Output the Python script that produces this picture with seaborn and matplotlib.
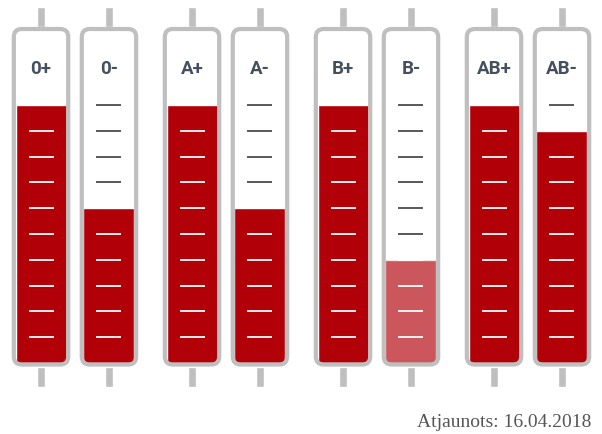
import matplotlib
matplotlib.use("Agg")
import matplotlib.pyplot as plt
import pandas as pd
import seaborn as sns
from matplotlib.patches import FancyBboxPatch

# ---- data
groups = ["0", "A", "B", "AB"]
rhesus = ["+", "-"]
levels_pos = [10, 10, 10, 10]
levels_neg = [6, 6, 4, 9]
tick_levels = [1, 2, 3, 4, 5, 6, 7, 8, 9, 10]
low_stock = [("B", "-")]
updated = "Atjaunots: 16.04.2018"

RED = "#B10008"
GREY = "#BFBFBF"
PX_X = 151.0   # px per group
PX_Y = 25.8    # px per level
ASPECT = PX_X / PX_Y

df = pd.DataFrame({
    "group": groups * 2,
    "rh": ["+"] * 4 + ["-"] * 4,
    "level": levels_pos + levels_neg,
})

sns.set_theme(style="white")
fig = plt.figure(figsize=(6.02, 4.34), dpi=100)
ax = fig.add_axes([0, 0, 1, 1])

sns.barplot(data=df, x="group", y="level", hue="rh", order=groups, hue_order=rhesus,
            palette=[RED, RED], saturation=1, width=0.9, gap=0.25, legend=False, ax=ax)

ax.set_xlim(-75 / PX_X, (602 - 75) / PX_X)
ax.set_ylim((363 - 434) / PX_Y, 363 / PX_Y)
ax.axis("off")

dx = 1 / PX_X   # one pixel in data units
dy = 1 / PX_Y

for container, rh in zip(ax.containers, rhesus):
    for bar, group in zip(container.patches, groups):
        cx = bar.get_x() + bar.get_width() / 2
        level = bar.get_height()
        if (group, rh) in low_stock:
            bar.set_alpha(0.66)

        # clip the fill so that its lower corners follow the tube
        inner = FancyBboxPatch((cx - 25.5 * dx, 0), 51 * dx, 12.5,
                               boxstyle=f"round,pad=0,rounding_size={6 * dx}",
                               mutation_aspect=ASPECT, transform=ax.transData,
                               fc="none", ec="none")
        ax.add_patch(inner)
        bar.set_clip_path(inner)

        # tube outline and stems
        tube = FancyBboxPatch((cx - 27.2 * dx, -1.5 * dy), 54.4 * dx, 335.5 * dy,
                              boxstyle=f"round,pad=0,rounding_size={8 * dx}",
                              mutation_aspect=ASPECT, fc="none", ec=GREY,
                              lw=4.2 * 72 / 100, zorder=4)
        ax.add_patch(tube)
        ax.bar(cx, 20 * dy, width=8 * dx, bottom=336 * dy, color=GREY, zorder=3)
        ax.bar(cx, 20 * dy, width=8 * dx, bottom=-24 * dy, color=GREY, zorder=3)

        # scale marks, white on the blood and dark above it
        for t in tick_levels:
            ax.hlines(t, cx - 12.5 * dx, cx + 12.5 * dx, lw=1.8 * 72 / 100,
                      color="white" if t <= level else "#4A4A4A", zorder=5)

        ax.text(cx, 11.4, group + rh, ha="center", va="center", fontsize=13.5,
                fontweight="bold", color="#44505F", zorder=5,
                family=["Roboto", "Liberation Sans"])

ax.text(591 / 602, 7 / 434, updated, transform=ax.transAxes, ha="right", va="baseline",
        fontsize=14, color="#555555", family=["Liberation Serif", "DejaVu Serif"])

fig.savefig("out.png", dpi=100)
